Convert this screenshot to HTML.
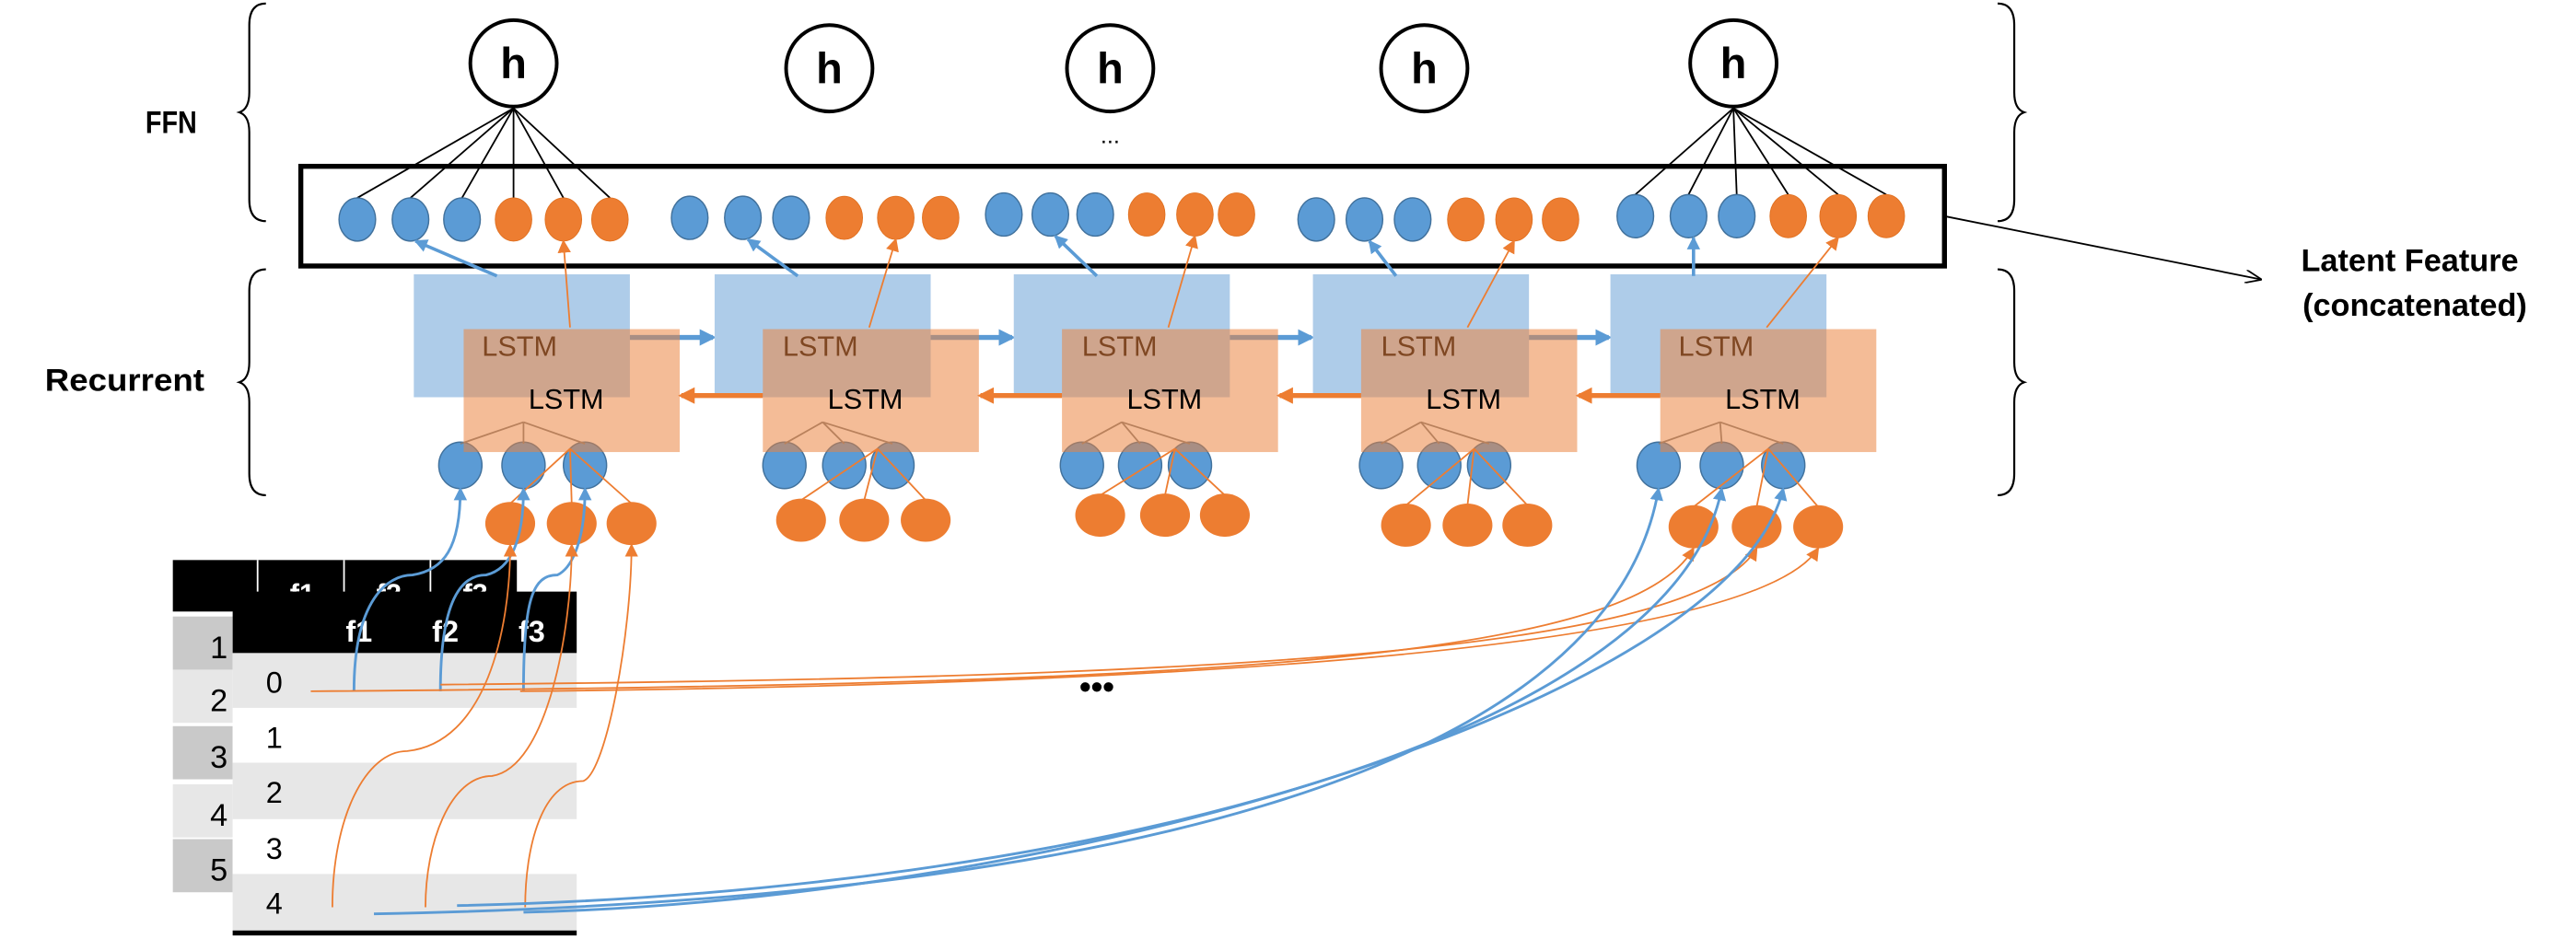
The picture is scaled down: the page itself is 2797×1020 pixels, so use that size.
<!DOCTYPE html>
<html><head><meta charset="utf-8"><style>
html,body{margin:0;padding:0;background:#fff;}
svg{display:block;}
text{font-family:"Liberation Sans","Noto Sans CJK KR",sans-serif;}
</style></head>
<body>
<svg id="fig" xmlns="http://www.w3.org/2000/svg" width="2797" height="1020" viewBox="0 0 1550 565">
<defs>
<marker id="mb" markerWidth="8" markerHeight="8" refX="7" refY="4" orient="auto" markerUnits="userSpaceOnUse"><path d="M0,0 L8,4 L0,8 z" fill="#5b9bd5"/></marker>
<marker id="mbb" markerWidth="10" markerHeight="10" refX="8" refY="5" orient="auto" markerUnits="userSpaceOnUse"><path d="M0,0 L10,5 L0,10 z" fill="#5b9bd5"/></marker>
<marker id="mo" markerWidth="8" markerHeight="8" refX="7" refY="4" orient="auto" markerUnits="userSpaceOnUse"><path d="M0,0 L8,4 L0,8 z" fill="#ed7d31"/></marker>
<marker id="mob" markerWidth="10" markerHeight="10" refX="8" refY="5" orient="auto" markerUnits="userSpaceOnUse"><path d="M0,0 L10,5 L0,10 z" fill="#ed7d31"/></marker>
<marker id="mk" markerWidth="10" markerHeight="8" refX="9" refY="4" orient="auto" markerUnits="userSpaceOnUse"><path d="M0,0 L10,4 L0,8" fill="none" stroke="#000" stroke-width="1"/></marker>
</defs>
<g id="layer-table"></g>
<g id="layer-main"></g>
<g id="layer-top"></g>
</svg>
<script>
const hX=[309,499,668,857,1043];
const hY=[38,41,41,41,38];
const inBlue=[[215,247,278],[415,447,476],[604,632,659],[792,821,850],[984,1016,1045]];
const inOrange=[[309,339,367],[508,539,566],[690,719,744],[882,911,939],[1076,1106,1135]];
const inY=[132,131,129,132,130];
const blueBoxX=[249,430,610,790,969];
const orangeBoxX=[279,459,639,819,999];
const botBlue=[[277,315,352],[472,508,537],[651,686,716],[831,866,896],[998,1036,1073]];
const botOrange=[[307,344,380],[482,520,557],[662,701,737],[846,883,919],[1019,1057,1094]];
const botOrangeY=[315,313,310,316,317];
const backCols=['f1','f2','f3'];
const frontCols=['f1','f2','f3'];
const rowLabels=['1','2','3','4','5'];
const rowIdx=['0','1','2','3','4'];

const NS='http://www.w3.org/2000/svg';
function mk(tag,a,p){const e=document.createElementNS(NS,tag);for(const k in a)e.setAttribute(k,a[k]);p.appendChild(e);return e;}
const T=document.getElementById('layer-table');
const M=document.getElementById('layer-main');
const O=document.getElementById('layer-top');
let e;

function brace(x,y0,y1,dir){const ym=(y0+y1)/2,b=x-10*dir,t=x-16*dir;
return `M${x},${y0} Q${b},${y0} ${b},${y0+13} L${b},${ym-12} Q${b},${ym-2} ${t},${ym} Q${b},${ym+2} ${b},${ym+12} L${b},${y1-13} Q${b},${y1} ${x},${y1}`;}
e=mk('path',{d:brace(160,2,133,1),fill:'none',stroke:'#000','stroke-width':1.2},M);


e=mk('path',{d:brace(160,162,298,1),fill:'none',stroke:'#000','stroke-width':1.2},M);


e=mk('path',{d:brace(1202,2,133,-1),fill:'none',stroke:'#000','stroke-width':1.2},M);


e=mk('path',{d:brace(1202,162,298,-1),fill:'none',stroke:'#000','stroke-width':1.2},M);


e=mk('text',{x:103,y:80,'font-size':19,'font-weight':'bold','text-anchor':'middle',textLength:31,lengthAdjust:'spacingAndGlyphs'},M);e.textContent='FFN';


e=mk('text',{x:75,y:235,'font-size':19,'font-weight':'bold','text-anchor':'middle',textLength:96,lengthAdjust:'spacingAndGlyphs'},M);e.textContent='Recurrent';



e=mk('rect',{x:181,y:100,width:989,height:60,fill:'none',stroke:'#000','stroke-width':3},M);


e=mk('line',{x1:1170,y1:130,x2:1360,y2:168,stroke:'#000','stroke-width':1,'marker-end':'url(#mk)'},M);


e=mk('text',{x:1450,y:163,'font-size':19,'font-weight':'bold','text-anchor':'middle'},M);e.textContent='Latent Feature';


e=mk('text',{x:1453,y:190,'font-size':19,'font-weight':'bold','text-anchor':'middle'},M);e.textContent='(concatenated)';


e=mk('text',{x:668,y:86,'font-size':14,'text-anchor':'middle'},M);e.textContent='...';


e=mk('text',{x:660,y:420,'font-size':20,'font-weight':'bold','text-anchor':'middle'},M);e.textContent='•••';



[0,4].forEach(g=>{
  inBlue[g].concat(inOrange[g]).forEach(x=>{
    e=mk('line',{x1:hX[g],y1:hY[g]+27,x2:x,y2:inY[g]-13,stroke:'#000','stroke-width':1},M);
    
    
  });
});
hX.forEach((x,i)=>{
  e=mk('ellipse',{cx:x,cy:hY[i],rx:26,ry:26,fill:'#fff',stroke:'#000','stroke-width':2.2},M);
  
  
  e=mk('text',{x:x,y:hY[i]+9,'font-size':26,'font-weight':'bold','text-anchor':'middle'},M);e.textContent='h';
  
  
});
inBlue.forEach((g,i)=>g.forEach(x=>{
  e=mk('ellipse',{cx:x,cy:inY[i],rx:11,ry:13,fill:'#5b9bd5',stroke:'#41719c','stroke-width':0.8},M);
  
  
}));
inOrange.forEach((g,i)=>g.forEach(x=>{
  e=mk('ellipse',{cx:x,cy:inY[i],rx:11,ry:13,fill:'#ed7d31',stroke:'#e07020','stroke-width':0.5},M);
  
  
}));

blueBoxX.forEach((x,i)=>{
  e=mk('rect',{x:x,y:165,width:130,height:74,fill:'#aecce9'},M);
  
  
  e=mk('text',{x:x+41,y:214,'font-size':17},M);e.textContent='LSTM';
  
  
  e=mk('line',{x1:x+50,y1:166,x2:inBlue[i][1]+3,y2:inY[i]+13,stroke:'#5b9bd5','stroke-width':2,'marker-end':'url(#mb)'},M);
  
  
  if(i<4){
    e=mk('line',{x1:x+130,y1:203,x2:blueBoxX[i+1]-1,y2:203,stroke:'#5b9bd5','stroke-width':3,'marker-end':'url(#mbb)'},M);
    
    
  }
});
botBlue.forEach((g,i)=>g.forEach(x=>{
  e=mk('ellipse',{cx:x,cy:280,rx:13,ry:14,fill:'#5b9bd5',stroke:'#41719c','stroke-width':0.8},M);
  
  
}));
orangeBoxX.forEach((x,i)=>{
  botBlue[i].forEach(bx=>{
    e=mk('line',{x1:x+36,y1:254,x2:bx,y2:267,stroke:'#7f7f7f','stroke-width':1},M);
    
    
  });
});
orangeBoxX.forEach((x,i)=>{
  e=mk('rect',{x:x,y:198,width:130,height:74,fill:'rgb(235,132,62)','fill-opacity':0.54},M);
  
  
  e=mk('text',{x:x+39,y:246,'font-size':17},M);e.textContent='LSTM';
  
  
  e=mk('line',{x1:x+64,y1:197,x2:inOrange[i][1],y2:inY[i]+13,stroke:'#ed7d31','stroke-width':1,'marker-end':'url(#mo)'},M);
  
  
  if(i>0){
    e=mk('line',{x1:x,y1:238,x2:orangeBoxX[i-1]+131,y2:238,stroke:'#ed7d31','stroke-width':3,'marker-end':'url(#mob)'},M);
    
    
  }
  botOrange[i].forEach(ox=>{
    e=mk('line',{x1:botBlue[i][2]-9,y1:270,x2:ox,y2:botOrangeY[i]-12,stroke:'#ed7d31','stroke-width':1},M);
    
    
  });
});
botOrange.forEach((g,i)=>g.forEach(x=>{
  e=mk('ellipse',{cx:x,cy:botOrangeY[i],rx:15,ry:13,fill:'#ed7d31'},M);
  
  
}));

e=mk('rect',{x:104,y:337,width:207,height:31,fill:'#000'},T);


[155,207,259].forEach(x=>{
  e=mk('line',{x1:x,y1:337,x2:x,y2:357,stroke:'#fff','stroke-width':1},T);
  
  
});
backCols.forEach((c,i)=>{
  e=mk('text',{x:182+i*52,y:363,'font-size':17,'font-weight':'bold',fill:'#fff','text-anchor':'middle'},T);e.textContent=c;
  
  
});
rowLabels.forEach((r,i)=>{
  const y=[371,403,437,472,505][i];
  e=mk('rect',{x:104,y:y,width:36,height:32,fill:i%2?'#e7e7e7':'#c9c9c9'},T);
  
  
  e=mk('text',{x:137,y:y+25,'font-size':19,'text-anchor':'end'},T);e.textContent=r;
  
  
});
e=mk('rect',{x:140,y:356,width:207,height:37,fill:'#000'},T);


frontCols.forEach((c,i)=>{
  e=mk('text',{x:216+i*52,y:386,'font-size':18,'font-weight':'bold',fill:'#fff','text-anchor':'middle'},T);e.textContent=c;
  
  
});
rowIdx.forEach((r,i)=>{
  const y=[393,426,459,493,526][i];
  e=mk('rect',{x:140,y:y,width:207,height:[33,33,34,33,34][i],fill:i%2?'#ffffff':'#e7e7e7'},T);
  
  
  e=mk('text',{x:160,y:y+24,'font-size':18},T);e.textContent=r;
  
  
});
e=mk('rect',{x:140,y:560,width:207,height:3,fill:'#000'},T);



const blueLocal=[[213,416],[265,416],[315,416]];
blueLocal.forEach((p,i)=>{
  const tx=botBlue[0][i],mx=p[0]+(tx-p[0])*0.55,my=p[1]-70;
  e=mk('path',{d:`M${p[0]},${p[1]} C${p[0]},${my+15} ${mx-15},${my} ${mx},${my} C${tx-10},${my-3} ${tx},${330} ${tx},294`,fill:'none',stroke:'#5b9bd5','stroke-width':1.6,'marker-end':'url(#mb)'},O);
  
  
});
const orangeLocal=[[200,546],[256,546],[316,546]];
orangeLocal.forEach((p,i)=>{
  const tx=botOrange[0][i],my=[452,467,470][i],mx=p[0]+[45,40,35][i];
  e=mk('path',{d:`M${p[0]},${p[1]} C${p[0]},${my+40} ${mx-25},${my} ${mx},${my} C${tx-15},${my-5} ${tx},${380} ${tx},${botOrangeY[0]+13}`,fill:'none',stroke:'#ed7d31','stroke-width':1,'marker-end':'url(#mo)'},O);
  
  
});
const orangeFar=[[187,416],[265,412],[313,416]];
orangeFar.forEach((p,i)=>{
  const tx=botOrange[4][i],ty=botOrangeY[4]+13;
  e=mk('path',{d:`M${p[0]},${p[1]} C${700},${p[1]-4} ${tx-40},${400-i*4} ${tx},${ty}`,fill:'none',stroke:'#ed7d31','stroke-width':1,'marker-end':'url(#mo)'},O);
  
  
});
const blueFar=[[225,550],[275,545],[315,549]];
blueFar.forEach((p,i)=>{
  const tx=botBlue[4][i],ty=294;
  e=mk('path',{d:`M${p[0]},${p[1]} C${650},${p[1]-8} ${tx-30},${470-i*25} ${tx},${ty}`,fill:'none',stroke:'#5b9bd5','stroke-width':1.6,'marker-end':'url(#mb)'},O);
  
  
});
</script>
</body></html>
